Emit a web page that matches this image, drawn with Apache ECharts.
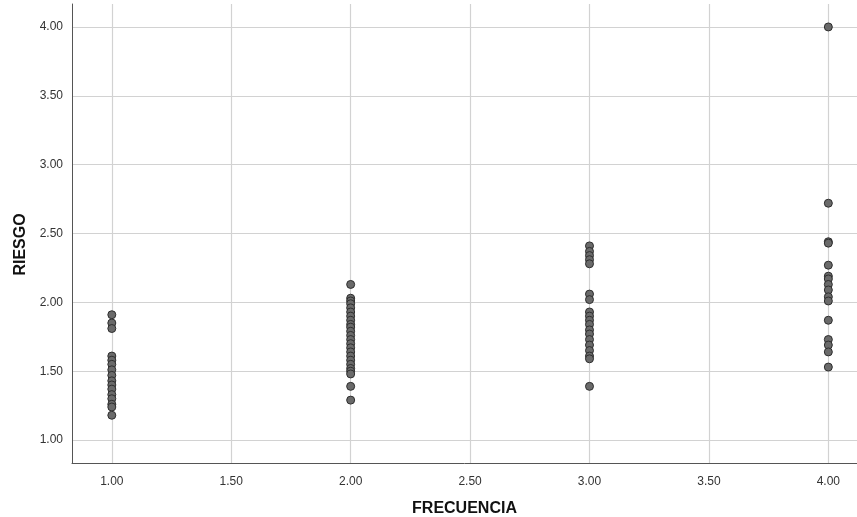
<!DOCTYPE html>
<html>
<head>
<meta charset="utf-8">
<script src="https://cdn.jsdelivr.net/npm/echarts@6/dist/echarts.min.js"></script>
<style>
html,body{margin:0;padding:0;background:#fff;}
#chart{width:857px;height:517px;}
</style>
</head>
<body>
<div id="chart"></div>
<script>
// FRECUENCIA categories (x values) and RIESGO values read per column
const frecuencia = [1, 2, 3, 4];
const riesgoF1 = [1.91, 1.85, 1.81, 1.61, 1.58, 1.55, 1.51, 1.47, 1.43, 1.40, 1.37, 1.33, 1.30, 1.26, 1.24, 1.18];
const riesgoF2 = [2.13, 2.03, 2.01, 1.99, 1.96, 1.93, 1.90, 1.87, 1.84, 1.82, 1.79, 1.76, 1.73, 1.70, 1.67, 1.64, 1.61, 1.58, 1.55, 1.52, 1.50, 1.48, 1.39, 1.29];
const riesgoF3 = [2.41, 2.37, 2.34, 2.31, 2.28, 2.06, 2.02, 1.93, 1.90, 1.87, 1.84, 1.80, 1.77, 1.73, 1.69, 1.65, 1.61, 1.59, 1.39];
const riesgoF4 = [4.00, 2.72, 2.44, 2.43, 2.27, 2.19, 2.17, 2.13, 2.09, 2.04, 2.01, 1.87, 1.73, 1.69, 1.64, 1.53];
const xTicks = [1.0, 1.5, 2.0, 2.5, 3.0, 3.5, 4.0];
const yTicks = [1.0, 1.5, 2.0, 2.5, 3.0, 3.5, 4.0];
const xName = 'FRECUENCIA';
const yName = 'RIESGO';

const columns = [riesgoF1, riesgoF2, riesgoF3, riesgoF4];
const points = [];
columns.forEach((col, i) => col.forEach(v => points.push([frecuencia[i], v])));

const gridColor = '#d2d2d2';
const markData = [];
xTicks.forEach(v => markData.push({ xAxis: v }));
yTicks.forEach(v => markData.push({ yAxis: v }));

const font = 'Liberation Sans, Arial, sans-serif';
const chart = echarts.init(document.getElementById('chart'));
chart.setOption({
  animation: false,
  backgroundColor: '#ffffff',
  grid: { left: 72, right: 0, top: 4, bottom: 54, containLabel: false, outerBoundsMode: 'none' },
  xAxis: {
    type: 'value',
    min: 0.8333, max: 4.12,
    name: xName,
    nameLocation: 'middle',
    nameGap: 38,
    nameTextStyle: { fontFamily: font, fontSize: 16, fontWeight: 'bold', color: '#111' },
    axisLine: { show: true, lineStyle: { color: '#555', width: 1 } },
    axisTick: { show: false, customValues: xTicks },
    splitLine: { show: false },
    axisLabel: {
      customValues: xTicks,
      formatter: v => v.toFixed(2),
      margin: 13,
      fontFamily: font, fontSize: 12, color: '#333'
    }
  },
  yAxis: {
    type: 'value',
    min: 0.8333, max: 4.1667,
    name: yName,
    nameLocation: 'middle',
    nameGap: 42,
    nameRotate: 90,
    nameTextStyle: { fontFamily: font, fontSize: 16, fontWeight: 'bold', color: '#111', padding: [0, 22, 0, 0] },
    axisLine: { show: true, lineStyle: { color: '#555', width: 1 } },
    axisTick: { show: false, customValues: yTicks },
    splitLine: { show: false },
    axisLabel: {
      customValues: yTicks,
      formatter: v => v.toFixed(2),
      margin: 9,
      fontFamily: font, fontSize: 12, color: '#333'
    }
  },
  series: [{
    type: 'scatter',
    data: points,
    symbol: 'circle',
    symbolSize: 8,
    itemStyle: { color: '#6a6a6a', borderColor: '#2e2e2e', borderWidth: 1, opacity: 1 },
    markLine: {
      silent: true,
      symbol: 'none',
      animation: false,
      label: { show: false },
      lineStyle: { color: gridColor, width: 1.2, type: 'solid' },
      emphasis: { disabled: true },
      data: markData,
      z: 0
    },
    z: 3
  }]
});
</script>
</body>
</html>
